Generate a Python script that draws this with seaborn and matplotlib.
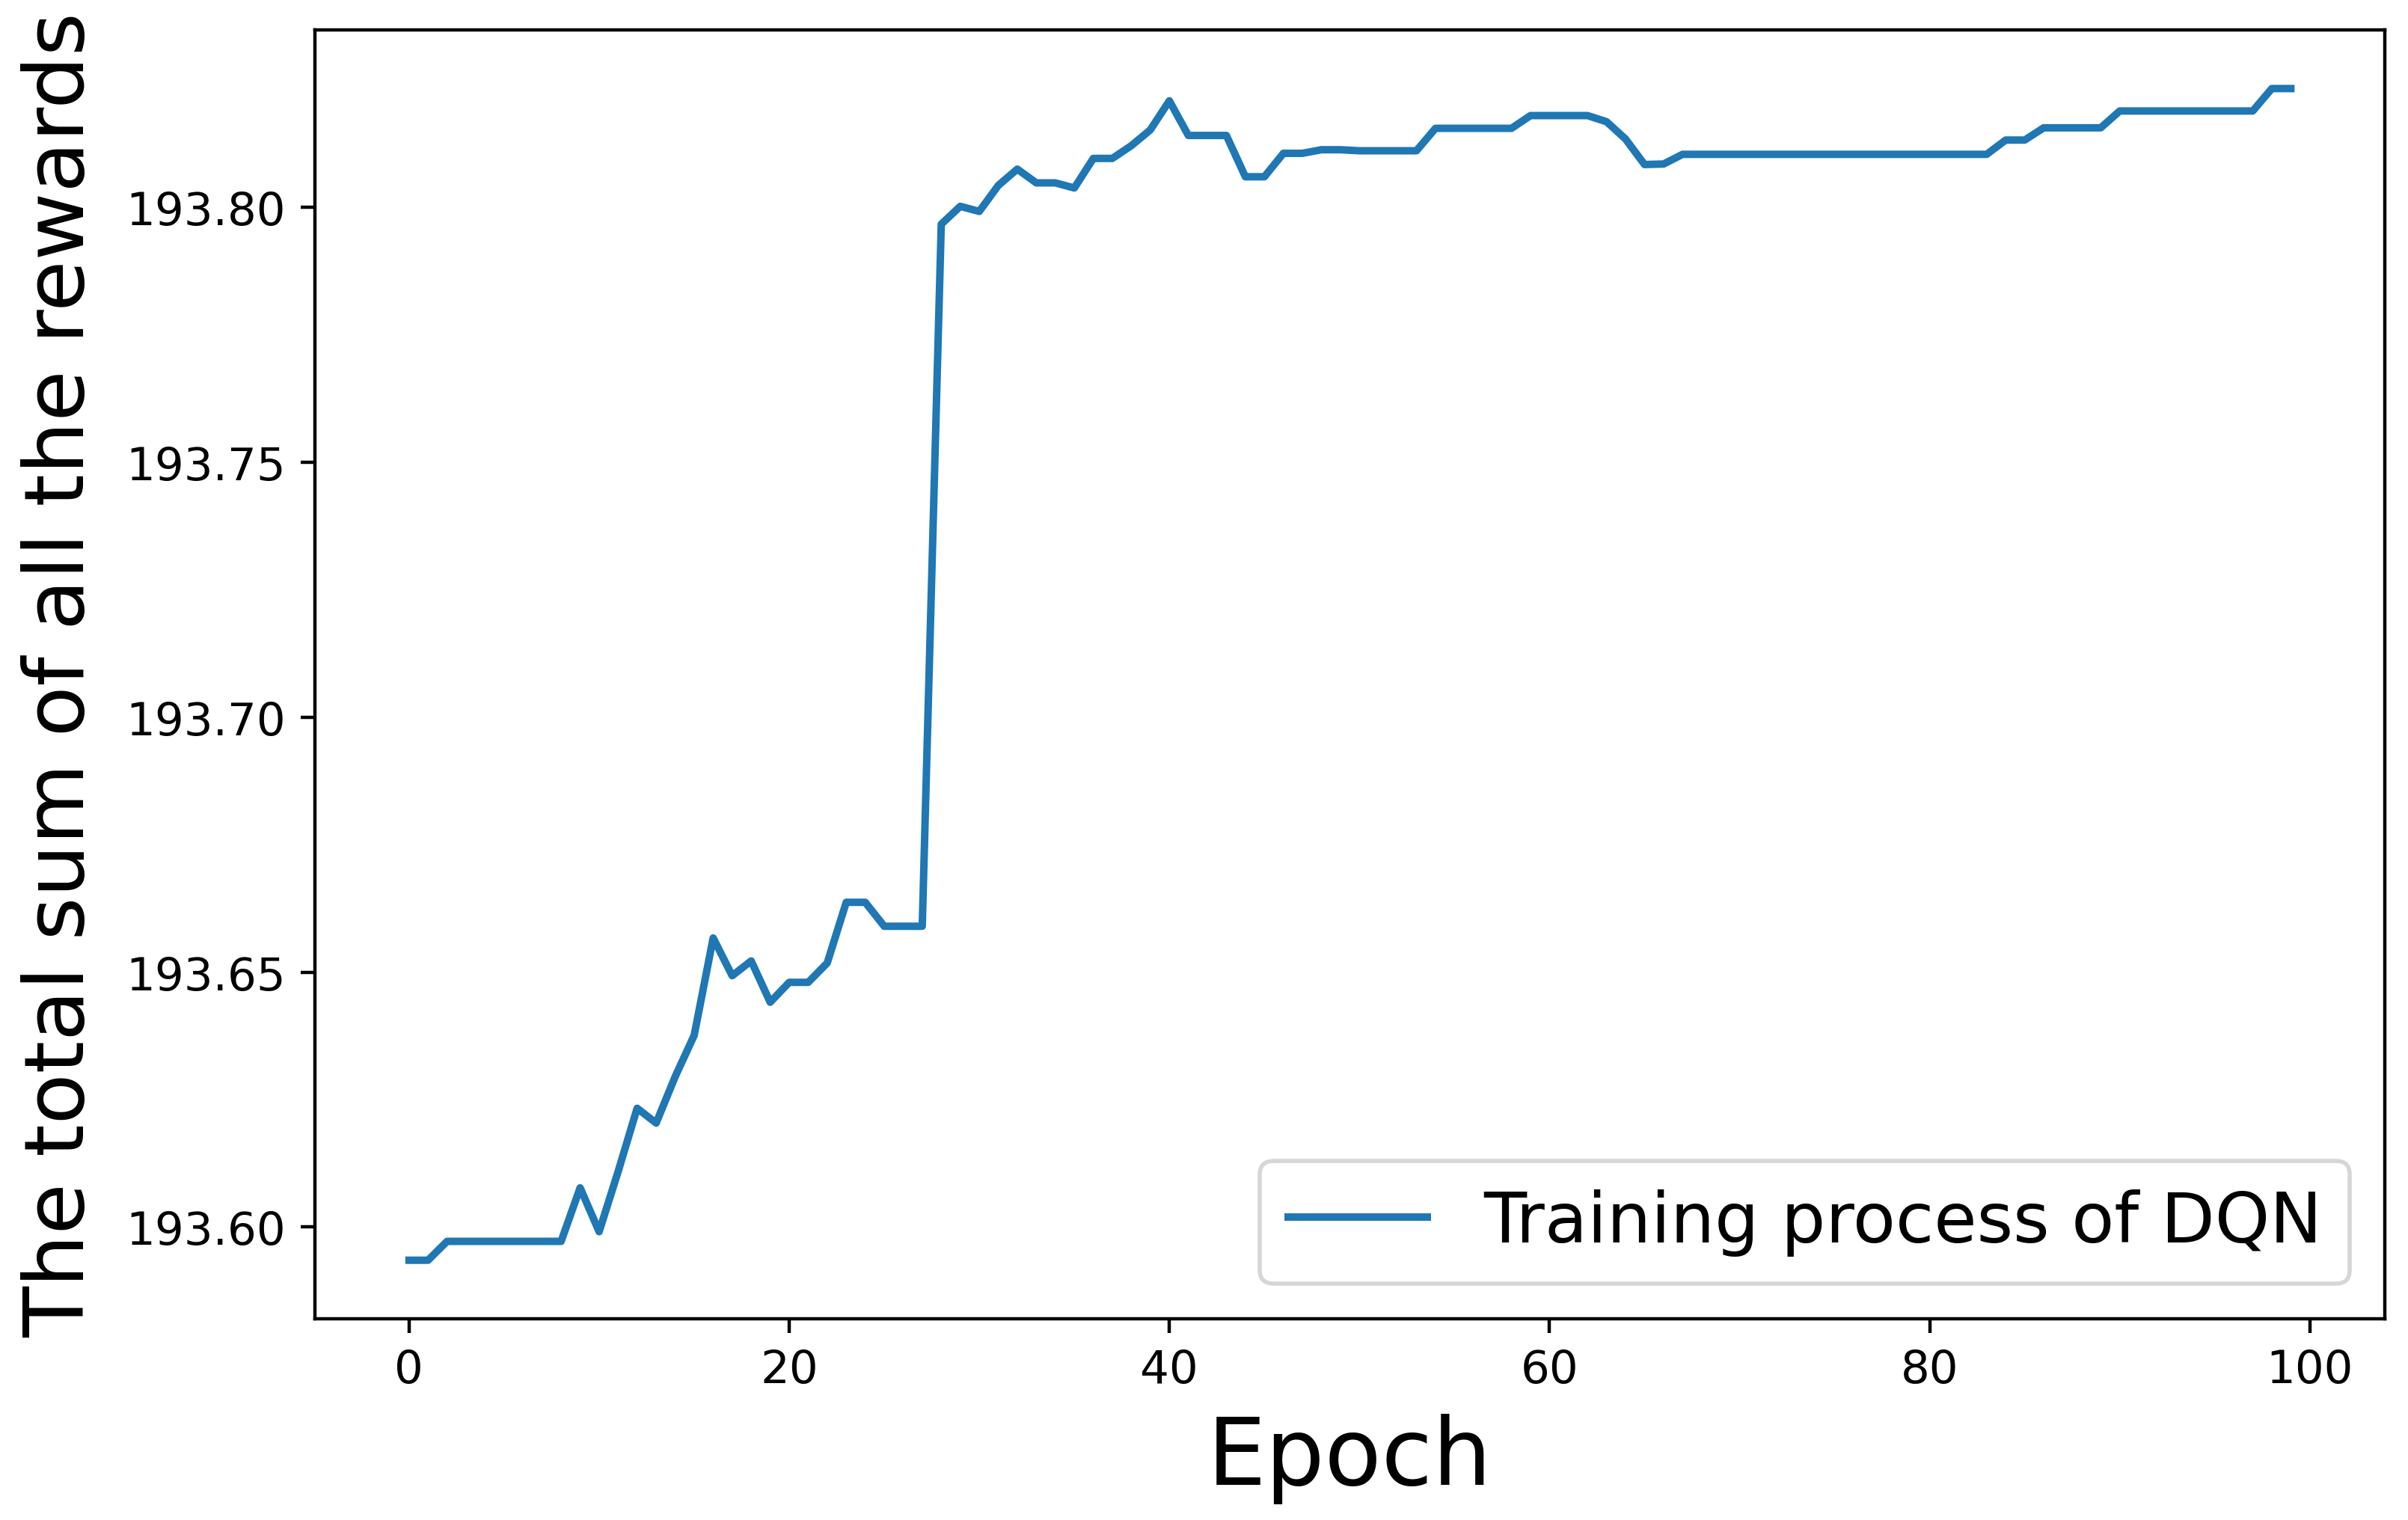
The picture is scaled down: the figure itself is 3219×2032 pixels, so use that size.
import numpy as np
import pandas as pd

import matplotlib
matplotlib.use("Agg")

import matplotlib.pyplot as plt
import seaborn as sns

# reward per epoch
epochs = list(range(100))
rewards = [
    193.5935, 193.5935, 193.5972, 193.5972, 193.5972, 193.5972, 193.5972, 193.5972, 193.5972, 193.6077,
    193.5991, 193.6109, 193.6233, 193.6204, 193.6295, 193.6376, 193.6567, 193.6493, 193.6522, 193.6441,
    193.6480, 193.6480, 193.6518, 193.6637, 193.6637, 193.6590, 193.6590, 193.6590, 193.7967, 193.8002,
    193.7992, 193.8043, 193.8075, 193.8048, 193.8048, 193.8038, 193.8096, 193.8096, 193.8121, 193.8152,
    193.8209, 193.8141, 193.8141, 193.8141, 193.8060, 193.8060, 193.8106, 193.8106, 193.8113, 193.8113,
    193.8111, 193.8111, 193.8111, 193.8111, 193.8155, 193.8155, 193.8155, 193.8155, 193.8155, 193.8180,
    193.8180, 193.8180, 193.8180, 193.8168, 193.8134, 193.8084, 193.8085, 193.8104, 193.8104, 193.8104,
    193.8104, 193.8104, 193.8104, 193.8104, 193.8104, 193.8104, 193.8104, 193.8104, 193.8104, 193.8104,
    193.8104, 193.8104, 193.8104, 193.8104, 193.8132, 193.8132, 193.8156, 193.8156, 193.8156, 193.8156,
    193.8189, 193.8189, 193.8189, 193.8189, 193.8189, 193.8189, 193.8189, 193.8189, 193.8233, 193.8233,
]
series_name = "Training process of DQN"

df = pd.DataFrame({"Epoch": epochs, "Reward": rewards})

fig = plt.figure(figsize=(3219 / 400, 2033 / 400), dpi=400)
ax = fig.add_axes([0.1308, 0.1323, 0.8596, 0.8475])

sns.lineplot(data=df, x="Epoch", y="Reward", ax=ax, color="#1f77b4",
             linewidth=1.8, label=series_name)

ax.set_xlabel("Epoch", fontsize=22.4, labelpad=5)
ax.set_ylabel("The total sum of all the rewards", fontsize=20, labelpad=6)
ax.tick_params(axis="both", labelsize=11)
ax.set_xticks([0, 20, 40, 60, 80, 100])
ax.set_yticks([193.60, 193.65, 193.70, 193.75, 193.80])
ax.legend(loc="lower right", fontsize=16.8)

fig.savefig("out.png", dpi=400)
plt.close()
